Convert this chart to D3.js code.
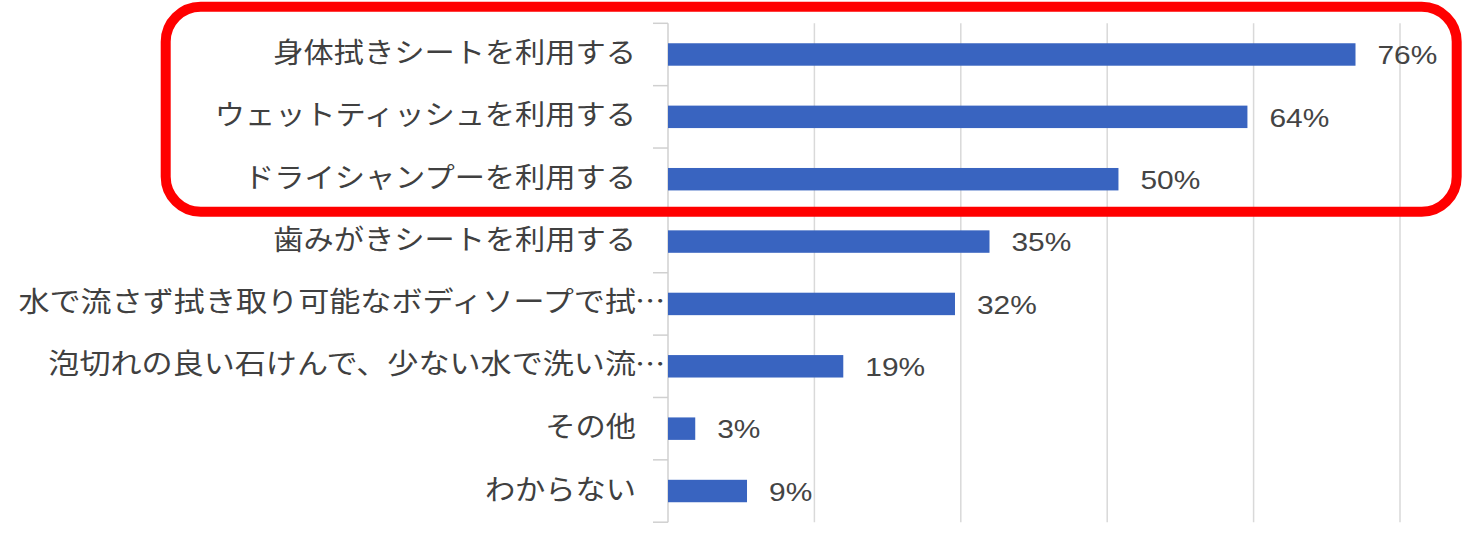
<!DOCTYPE html>
<html>
<head>
<meta charset="utf-8">
<script src="https://cdn.jsdelivr.net/npm/d3@7"></script>
<style>
  html, body { margin: 0; padding: 0; background: #fff; }
  svg { display: block; }
</style>
</head>
<body>
<svg class="chart"></svg>
<script>
const categories = [
  "身体拭きシートを利用する",
  "ウェットティッシュを利用する",
  "ドライシャンプーを利用する",
  "歯みがきシートを利用する",
  "水で流さず拭き取り可能なボディソープで拭…",
  "泡切れの良い石けんで、少ない水で洗い流…",
  "その他",
  "わからない",
];
const values = [75.7, 63.8, 49.6, 35.4, 31.6, 19.3, 3.0, 8.7];
const xMax = 80.6;
const gridCount = 5;

const width = 1465;
const height = 547;
const plot = { left: 668, right: 1400, top: 23.3, bottom: 522.2 };

const svg = d3
  .select(".chart")
  .attr("width", width)
  .attr("height", height)
  .attr("viewBox", `0 0 ${width} ${height}`);

const x = d3.scaleLinear().domain([0, xMax]).range([plot.left, plot.right]);

const y = d3
  .scaleBand()
  .domain(categories)
  .range([plot.top, plot.bottom])
  .paddingInner(0.64)
  .paddingOuter(0.32);

// vertical grid lines
const gridTicks = d3.range(1, gridCount + 1).map((i) => (i * xMax) / gridCount);
svg
  .append("g")
  .selectAll("line")
  .data(gridTicks)
  .join("line")
  .attr("x1", (d) => x(d))
  .attr("x2", (d) => x(d))
  .attr("y1", plot.top)
  .attr("y2", plot.bottom)
  .attr("stroke", "#d9d9d9")
  .attr("stroke-width", 1.5);

// category axis with ticks between categories
const boundaries = d3.range(categories.length + 1).map((i) => plot.top + i * y.step());
const axis = svg.append("g");
axis
  .append("line")
  .attr("x1", plot.left)
  .attr("x2", plot.left)
  .attr("y1", plot.top)
  .attr("y2", plot.bottom)
  .attr("stroke", "#d0d0d0")
  .attr("stroke-width", 1.5);
axis
  .selectAll(".tick")
  .data(boundaries)
  .join("line")
  .attr("class", "tick")
  .attr("x1", plot.left - 15)
  .attr("x2", plot.left)
  .attr("y1", (d) => d)
  .attr("y2", (d) => d)
  .attr("stroke", "#d0d0d0")
  .attr("stroke-width", 1.5);

// bars
svg
  .append("g")
  .selectAll("rect")
  .data(values)
  .join("rect")
  .attr("x", x(0))
  .attr("y", (d, i) => y(categories[i]))
  .attr("width", (d) => x(d) - x(0))
  .attr("height", y.bandwidth())
  .attr("fill", "#3964c0");

// value labels
svg
  .append("g")
  .selectAll("text")
  .data(values)
  .join("text")
  .attr(
    "transform",
    (d, i) => `translate(${x(d) + 22},${y(categories[i]) + y.bandwidth() / 2 + 1}) scale(1.15,1)`
  )
  .attr("dominant-baseline", "central")
  .attr("font-family", "'Liberation Sans', Arial, sans-serif")
  .attr("font-size", 26)
  .attr("fill", "#444")
  .text((d) => `${Math.round(d)}%`);

// category labels (truncated ones keep their ellipsis past the right edge)
const labelRight = 636;
const labels = svg.append("g");
categories.forEach((c, i) => {
  const cy = y(c) + y.bandwidth() / 2 - 4;
  const truncated = c.endsWith("…");
  const main = truncated ? c.slice(0, -1) : c;
  labels
    .append("text")
    .attr("transform", `translate(${labelRight},${cy}) scale(${truncated ? 1.11 : 1.08},1)`)
    .attr("text-anchor", "end")
    .attr("dominant-baseline", "central")
    .attr("font-family", "'Noto Sans CJK JP', sans-serif")
    .attr("font-size", 28)
    .attr("fill", "#404040")
    .text(main);
  if (truncated) {
    labels
      .append("text")
      .attr("transform", `translate(${labelRight - 1},${cy}) scale(1.08,1)`)
      .attr("dominant-baseline", "central")
      .attr("font-family", "'Noto Sans CJK JP', sans-serif")
      .attr("font-size", 28)
      .attr("fill", "#404040")
      .text("…");
  }
});

// red highlight box around the top three items
svg
  .append("rect")
  .attr("x", 165.7)
  .attr("y", 6.7)
  .attr("width", 1291)
  .attr("height", 205)
  .attr("rx", 35)
  .attr("fill", "none")
  .attr("stroke", "#ff0000")
  .attr("stroke-width", 10);
</script>
</body>
</html>
